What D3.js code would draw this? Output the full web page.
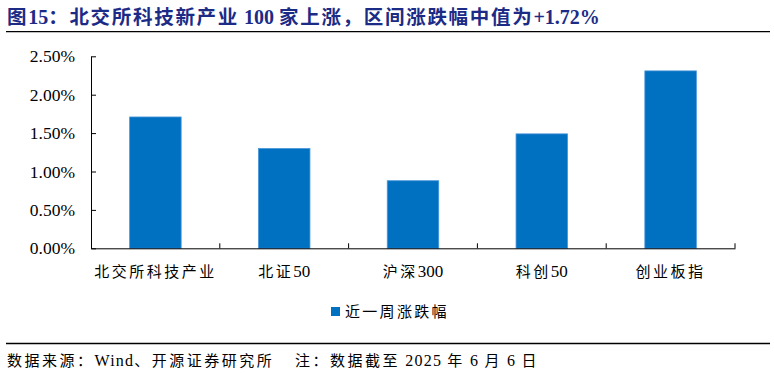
<!DOCTYPE html>
<html>
<head>
<meta charset="utf-8">
<script src="https://cdn.jsdelivr.net/npm/d3@7"></script>
<style>
  html, body { margin: 0; padding: 0; background: #fff; }
  svg { display: block; }
  text { font-family: "Liberation Serif", "Noto Sans CJK SC", serif; }
</style>
</head>
<body>
<svg id="chart"></svg>
<script>
// chart data
const categories = ['北交所科技产业', '北证50', '沪深300', '科创50', '创业板指'];
const weekChange = [1.71, 1.30, 0.88, 1.49, 2.31];
const yTicks = [0, 0.5, 1, 1.5, 2, 2.5];
const seriesName = '近一周涨跌幅';
const titleText = '图15：北交所科技新产业 100 家上涨，区间涨跌幅中值为+1.72%';
const sourceText = '数据来源：Wind、开源证券研究所\u00a0\u00a0\u00a0\u00a0注：数据截至 2025 年 6 月 6 日';

const width = 774, height = 374;
const margin = {top: 56.3, right: 39, bottom: 125.7, left: 91};
const innerW = width - margin.left - margin.right;
const innerH = height - margin.top - margin.bottom;

const FONT = '"Liberation Serif", "Noto Sans CJK SC", serif';

// split a string into CJK / latin runs; CJK gets the wide spacing,
// latin runs may get their own size (Times digits look bigger in the original)
function fillRuns(sel, str, cjkSpacing, latinSize, latinSpacing) {
    const isCJK = ch => ch.charCodeAt(0) >= 0x2e80;
    let runs = [];
    for (const ch of str) {
        const c = isCJK(ch);
        if (runs.length && runs[runs.length - 1].cjk === c) runs[runs.length - 1].s += ch;
        else runs.push({cjk: c, s: ch});
    }
    sel.text(null);
    runs.forEach(r => {
        const t = sel.append('tspan')
            .attr('letter-spacing', (r.cjk ? cjkSpacing : (latinSpacing || 0)) + 'px')
            .text(r.s);
        if (!r.cjk && latinSize) t.attr('font-size', latinSize + 'px');
    });
}

const svg = d3.select('#chart')
    .attr('width', width)
    .attr('height', height);

// title + rules
const title = svg.append('text')
    .attr('x', 7)
    .attr('y', 24)
    .attr('font-size', '19.5px')
    .attr('font-weight', 'bold')
    .attr('fill', '#1c2b86');
fillRuns(title, titleText, 1.7, 20, 0);

svg.append('line')
    .attr('x1', 6).attr('x2', 770)
    .attr('y1', 31.7).attr('y2', 31.7)
    .attr('stroke', '#000')
    .attr('stroke-width', 1.3);

svg.append('line')
    .attr('x1', 6).attr('x2', 770)
    .attr('y1', 343.5).attr('y2', 343.5)
    .attr('stroke', '#000')
    .attr('stroke-width', 1.3);

const source = svg.append('text')
    .attr('x', 7)
    .attr('y', 365.5)
    .attr('font-size', '15px')
    .attr('fill', '#000');
fillRuns(source, sourceText, 2.5, 16, 1.2);

const chart = svg.append('g')
    .attr('transform', `translate(${margin.left}, ${margin.top})`);

// scales
const xscale = d3.scaleBand()
    .domain(categories)
    .range([0, innerW])
    .paddingInner(0.6)
    .paddingOuter(0.3);

const xcell = d3.scaleBand()
    .domain(categories)
    .range([0, innerW])
    .padding(0);

const yscale = d3.scaleLinear()
    .domain([0, 2.5])
    .range([innerH, 0]);

// bars
chart.selectAll('.bar').data(weekChange).enter().append('rect')
    .attr('class', 'bar')
    .attr('x', (d, i) => xscale(categories[i]))
    .attr('y', d => yscale(d))
    .attr('width', xscale.bandwidth())
    .attr('height', d => innerH - yscale(d))
    .attr('fill', '#0070c0')
    .attr('stroke', '#4b97da')
    .attr('stroke-width', 0.8);

// y axis
const yaxis = d3.axisLeft(yscale)
    .tickValues(yTicks)
    .tickFormat(d => d.toFixed(2) + '%')
    .tickSizeInner(-5)
    .tickSizeOuter(0)
    .tickPadding(16);

const yaxisGroup = chart.append('g').call(yaxis);
yaxisGroup.attr('font-family', null);
yaxisGroup.select('.domain').attr('stroke', '#000');
yaxisGroup.selectAll('.tick line').attr('stroke', '#000');
yaxisGroup.selectAll('.tick text')
    .style('font-family', '"Liberation Serif", serif')
    .attr('font-size', '17.5px')
    .attr('fill', '#000');

// x axis
const xaxis = d3.axisBottom(xcell)
    .tickSize(0)
    .tickPadding(18);

const xaxisGroup = chart.append('g')
    .attr('transform', `translate(0, ${innerH})`)
    .call(xaxis);
xaxisGroup.attr('font-family', null);
xaxisGroup.select('.domain').attr('stroke', '#000');
xaxisGroup.selectAll('.tick text')
    .style('font-family', FONT)
    .attr('font-size', '15px')
    .attr('fill', '#000')
    .each(function(d) { fillRuns(d3.select(this), d, 2.5, 17, 0); });

// boundary ticks between categories (inside, pointing up)
xaxisGroup.selectAll('.sep').data(categories).enter().append('line')
    .attr('class', 'sep')
    .attr('x1', d => xcell(d) + xcell.bandwidth())
    .attr('x2', d => xcell(d) + xcell.bandwidth())
    .attr('y1', 0)
    .attr('y2', -5)
    .attr('stroke', '#000');

// legend
const legend = svg.append('g')
    .attr('transform', 'translate(331, 307)');
legend.append('rect')
    .attr('width', 9)
    .attr('height', 9)
    .attr('fill', '#0070c0');
const legendText = legend.append('text')
    .attr('x', 14)
    .attr('y', 10)
    .attr('font-size', '15px')
    .attr('fill', '#000');
fillRuns(legendText, seriesName, 2.3);
</script>
</body>
</html>
